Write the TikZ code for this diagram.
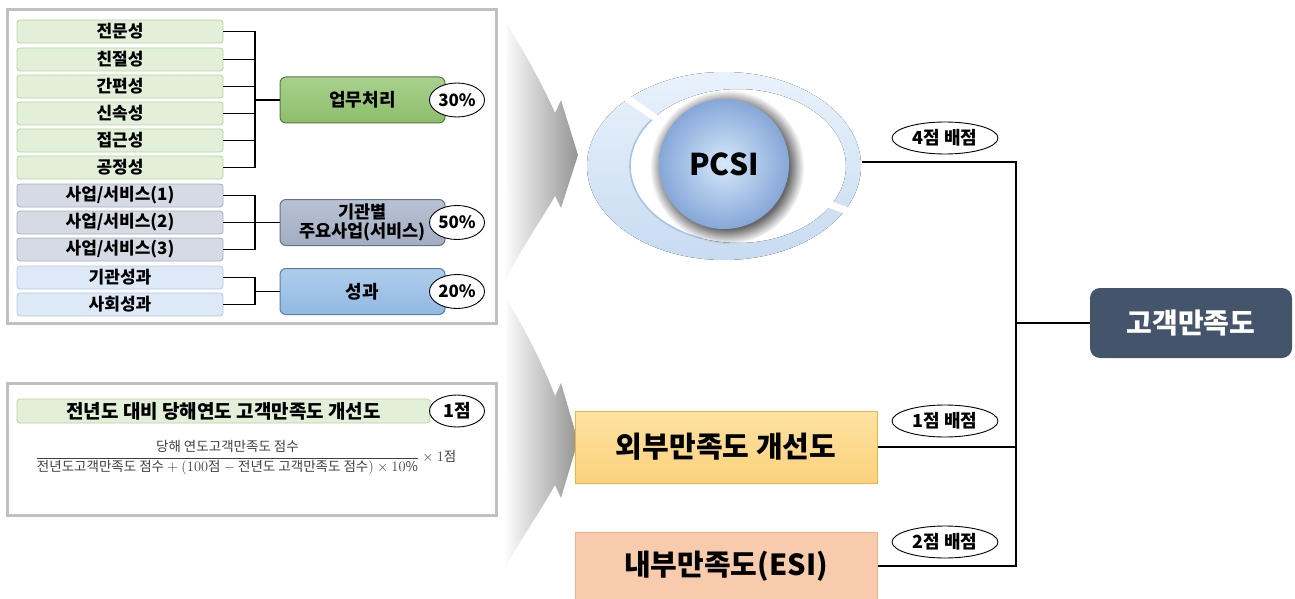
\documentclass[tikz,border=0pt]{standalone}
\usepackage{fontspec}
\usepackage{amsmath}
\setmainfont{Noto Sans CJK KR}
\usetikzlibrary{shapes.geometric,fadings,calc}

\definecolor{framegray}{HTML}{C0C0C0}
\definecolor{leafgreen}{HTML}{E2EFD9}
\definecolor{leafgreenline}{HTML}{B5D39F}
\definecolor{leafslate}{HTML}{D6DAE5}
\definecolor{leafslateline}{HTML}{A6ADBF}
\definecolor{leafblue}{HTML}{DDE9F7}
\definecolor{leafblueline}{HTML}{B4C9E3}
\definecolor{catgreenT}{HTML}{A9D18E}
\definecolor{catgreenB}{HTML}{8DBE6B}
\definecolor{catgreenline}{HTML}{557A40}
\definecolor{catslateT}{HTML}{B9C2D4}
\definecolor{catslateB}{HTML}{A2ADC3}
\definecolor{catslateline}{HTML}{66718A}
\definecolor{catblueT}{HTML}{AECDEC}
\definecolor{catblueB}{HTML}{92B9E1}
\definecolor{catblueline}{HTML}{5A7EAB}
\definecolor{ringT}{HTML}{E9F2FC}
\definecolor{ringB}{HTML}{C8DBF1}
\definecolor{ringline}{HTML}{A9C3E3}
\definecolor{spherein}{HTML}{D6E8FB}
\definecolor{sphereout}{HTML}{86A7D8}
\definecolor{extT}{HTML}{FDE2A2}
\definecolor{extB}{HTML}{FBD27C}
\definecolor{extline}{HTML}{F2B33D}
\definecolor{intfill}{HTML}{F8CBAD}
\definecolor{intline}{HTML}{F0B08C}
\definecolor{navy}{HTML}{44546A}
\definecolor{formula}{HTML}{404040}

\tikzset{
  frame/.style={draw=framegray, line width=3pt},
  leaf/.style={rounded corners=3pt, minimum width=206pt, minimum height=23pt,
    inner sep=0pt, line width=0.8pt, font=\fontsize{17}{19}\selectfont\bfseries},
  leafg/.style={leaf, fill=leafgreen, draw=leafgreenline},
  leafs/.style={leaf, fill=leafslate, draw=leafslateline},
  leafb/.style={leaf, fill=leafblue, draw=leafblueline},
  cat/.style={rounded corners=6pt, minimum width=165pt, minimum height=46pt,
    inner sep=0pt, line width=1pt, align=center,
    font=\fontsize{18}{20}\selectfont\bfseries},
  pct/.style={ellipse, draw=black, line width=0.9pt, fill=white,
    minimum width=55pt, minimum height=34pt, inner sep=0pt,
    font=\fontsize{17}{19}\selectfont\bfseries},
  score/.style={ellipse, draw=black, line width=0.9pt, fill=white,
    minimum width=106pt, minimum height=32pt, inner sep=0pt,
    font=\fontsize{18}{20}\selectfont\bfseries},
  wire/.style={draw=black, line width=1.1pt},
  swoosh/.style={left color=white, middle color=black!5, right color=black!42},
  bigbox/.style={minimum width=302pt, inner sep=0pt, line width=1pt,
    font=\fontsize{29}{32}\selectfont\bfseries}
}

\begin{document}
\begin{tikzpicture}[x=1pt, y=-1pt]
\useasboundingbox (0,0) rectangle (1295,599);

% ---------- evaluation items panel ----------
\draw[frame] (7,10) rectangle (496,323);

\node[leafg] (a1) at (120,31.5)  {전문성};
\node[leafg] (a2) at (120,59.5)  {친절성};
\node[leafg] (a3) at (120,86.5)  {간편성};
\node[leafg] (a4) at (120,113.5) {신속성};
\node[leafg] (a5) at (120,140.5) {접근성};
\node[leafg] (a6) at (120,167.5) {공정성};
\node[leafs] (b1) at (120,195.5) {사업/서비스(1)};
\node[leafs] (b2) at (120,222.5) {사업/서비스(2)};
\node[leafs] (b3) at (120,249.5) {사업/서비스(3)};
\node[leafb] (c1) at (120,277.5) {기관성과};
\node[leafb] (c2) at (120,304.5) {사회성과};

\node[cat, top color=catgreenT, bottom color=catgreenB, draw=catgreenline]
  (p1) at (362.5,100) {업무처리};
\node[cat, top color=catslateT, bottom color=catslateB, draw=catslateline,
  font=\fontsize{17.5}{19.5}\selectfont\bfseries]
  (p2) at (362.5,222.5) {기관별\\주요사업(서비스)};
\node[cat, top color=catblueT, bottom color=catblueB, draw=catblueline]
  (p3) at (362.5,291.5) {성과};

\coordinate (j1) at (255,100);
\coordinate (j2) at (255,222.5);
\coordinate (j3) at (255,291.5);
\foreach \n in {a1,a2,a3,a4,a5,a6} \draw[wire] (\n.east) -| (j1);
\foreach \n in {b1,b2,b3} \draw[wire] (\n.east) -| (j2);
\foreach \n in {c1,c2} \draw[wire] (\n.east) -| (j3);
\draw[wire] (j1) -- (p1.west);
\draw[wire] (j2) -- (p2.west);
\draw[wire] (j3) -- (p3.west);

\node[pct] (w1) at (457,100)   {30\%};
\node[pct] (w2) at (457,222.5) {50\%};
\node[pct] (w3) at (457,291.5) {20\%};

% ---------- improvement panel ----------
\draw[frame] (7,383) rectangle (496,515);
\node[leafg, minimum width=413pt, minimum height=24pt,
  font=\fontsize{19}{21}\selectfont\bfseries]
  (imp) at (223.5,411) {전년도 대비 당해연도 고객만족도 개선도};
\node[pct, minimum height=32pt, font=\fontsize{18}{20}\selectfont\bfseries]
  (one) at (457,411) {1점};
\node[text=formula, font=\fontsize{13.5}{15}\selectfont] (frm) at (246,458)
  {$\dfrac{\text{당해 연도고객만족도 점수}}{\text{전년도고객만족도 점수} + (100\text{점} - \text{전년도 고객만족도 점수})\times 10\%}\times 1\text{점}$};

% ---------- flow swooshes ----------
\shade[swoosh] (507,24) .. controls (528,58) and (546,92) .. (555,113)
  -- (561,100) -- (578,155) -- (561,208) -- (555,196)
  .. controls (540,222) and (520,250) .. (503,285) -- cycle;
\shade[swoosh] (507,300) .. controls (528,334) and (546,372) .. (555,396)
  -- (561,383) -- (578,441) -- (561,498) -- (555,485)
  .. controls (540,512) and (520,540) .. (503,572) -- cycle;

% ---------- PCSI ring and sphere ----------
\fill[top color=ringT, bottom color=ringB, even odd rule]
  (724,166) ellipse (137pt and 94pt) (738,166) ellipse (108pt and 77pt);
\draw[ringline, line width=1.6pt]
  ($(738,166)+(140:108pt and 77pt)$) arc[start angle=140, end angle=250,
  x radius=108pt, y radius=77pt];
\draw[white, line width=7pt] (724,166) -- ++(145:170pt);
\draw[white, line width=7pt] (724,166) -- ++(-20:170pt);
\fill[black, opacity=0.6, path fading=circle with fuzzy edge 20 percent]
  (727,167) circle (77pt);
\node[circle, minimum size=130pt, inner sep=0pt, inner color=spherein,
  outer color=sphereout, font=\fontsize{30}{32}\selectfont\bfseries]
  (pcsi) at (724,164) {PCSI};
\coordinate (ringR) at (862,162);

% ---------- satisfaction components ----------
\node[bigbox, minimum height=72pt, top color=extT, bottom color=extB,
  draw=extline] (ext) at (726,447) {외부만족도 개선도};
\node[bigbox, minimum height=68pt, fill=intfill, draw=intline]
  (int) at (726,566) {내부만족도(ESI)};

\node[rounded corners=10pt, fill=navy, text=white, minimum width=202pt,
  minimum height=70pt, inner sep=0pt, font=\fontsize{28}{30}\selectfont\bfseries]
  (cs) at (1191,323) {고객만족도};

\coordinate (jr) at (1016,323);
\draw[wire] (ringR) -| (jr);
\draw[wire] (ext.east) -| (jr);
\draw[wire] (int.east) -| (jr);
\draw[wire] (jr) -- (cs.west);

\node[score] (s4) at (945,138) {4점 배점};
\node[score] (s1) at (945,421) {1점 배점};
\node[score] (s2) at (945,542) {2점 배점};
\end{tikzpicture}
\end{document}
